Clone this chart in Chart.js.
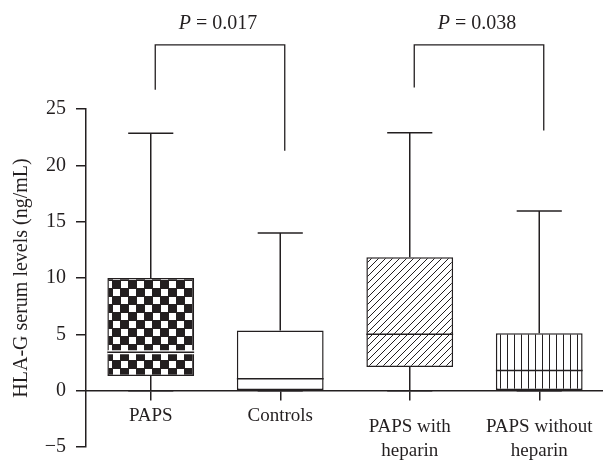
<!DOCTYPE html>
<html>
<head>
<meta charset="utf-8">
<script src="https://cdn.jsdelivr.net/npm/chart.js@4.4.1/dist/chart.umd.min.js"></script>
<style>
  html, body { margin: 0; padding: 0; background: #fff; overflow: hidden; }
  canvas { display: block; }
</style>
</head>
<body>
<canvas id="myChart" width="604" height="467"></canvas>
<script>
// values (ng/mL)
const groups = [['PAPS'], ['Controls'], ['PAPS with', 'heparin'], ['PAPS without', 'heparin']];
const whiskerLow = [0, 0, 0, 0];
const boxLow = [1.3, 0, 2.1, 0];
const medians = [3.4, 1.05, 5.0, 1.8];
const boxHigh = [10.0, 5.35, 11.85, 5.1];
const whiskerHigh = [22.85, 14.0, 22.9, 15.95];
const yMin = -5, yMax = 25, yStep = 5;

// significance brackets
const pairs = [[0, 1], [2, 3]];
const pValues = ['0.017', '0.038'];
const bracketTop = [30.7, 30.7];
const legEnds = [[26.7, 21.3], [26.9, 23.1]];

const ink = '#231f20';
const serif = "'Liberation Serif', 'Times New Roman', serif";

function checker() {
  const c = document.createElement('canvas');
  c.width = 16; c.height = 16;
  const g = c.getContext('2d');
  g.fillStyle = ink;
  g.fillRect(0, 0, 16, 16);
  g.fillStyle = '#fff';
  g.fillRect(1, 1, 7, 7);
  g.fillRect(9, 9, 7, 7);
  return g.createPattern(c, 'repeat');
}

function hatch() {
  const s = 7;
  const c = document.createElement('canvas');
  c.width = s; c.height = s;
  const g = c.getContext('2d');
  g.fillStyle = '#fff';
  g.fillRect(0, 0, s, s);
  g.strokeStyle = ink;
  g.lineWidth = 1;
  g.beginPath();
  g.moveTo(0, s); g.lineTo(s, 0);
  g.moveTo(-1, 1); g.lineTo(1, -1);
  g.moveTo(s - 1, s + 1); g.lineTo(s + 1, s - 1);
  g.stroke();
  return g.createPattern(c, 'repeat');
}

function vlines() {
  const c = document.createElement('canvas');
  c.width = 7; c.height = 7;
  const g = c.getContext('2d');
  g.fillStyle = '#fff';
  g.fillRect(0, 0, 7, 7);
  g.fillStyle = ink;
  g.fillRect(3, 0, 1, 7);
  return g.createPattern(c, 'repeat');
}

const fills = [checker(), '#fff', hatch(), vlines()];
const medianHalo = [true, false, false, false];

function seg(ctx, x1, y1, x2, y2) {
  ctx.beginPath();
  ctx.moveTo(x1, y1);
  ctx.lineTo(x2, y2);
  ctx.stroke();
}

// whiskers + medians on top of the floating bars
const boxParts = {
  id: 'boxParts',
  afterDatasetsDraw(chart) {
    const ctx = chart.ctx;
    const ys = chart.scales.y;
    const y = v => ys.getPixelForValue(v);
    ctx.save();
    chart.getDatasetMeta(0).data.forEach((bar, i) => {
      const x = bar.x;
      const half = bar.width / 2;
      const cap = half * 0.52;
      ctx.strokeStyle = ink;
      ctx.lineWidth = 1.5;
      seg(ctx, x, y(boxHigh[i]), x, y(whiskerHigh[i]));
      seg(ctx, x - cap, y(whiskerHigh[i]), x + cap, y(whiskerHigh[i]));
      if (boxLow[i] > whiskerLow[i]) seg(ctx, x, y(boxLow[i]), x, y(whiskerLow[i]));
      seg(ctx, x - cap, y(whiskerLow[i]), x + cap, y(whiskerLow[i]));
      if (medianHalo[i]) {
        ctx.strokeStyle = '#fff';
        ctx.lineWidth = 4;
        seg(ctx, x - half, y(medians[i]), x + half, y(medians[i]));
      }
      ctx.strokeStyle = ink;
      ctx.lineWidth = 1.5;
      seg(ctx, x - half, y(medians[i]), x + half, y(medians[i]));
    });
    ctx.restore();
  }
};

// category names under the zero line, and the P value brackets
const annotations = {
  id: 'annotations',
  afterDraw(chart) {
    const ctx = chart.ctx;
    const xs = chart.scales.x, ys = chart.scales.y;
    const zero = ys.getPixelForValue(0);
    ctx.save();
    ctx.fillStyle = ink;
    ctx.textAlign = 'center';
    ctx.textBaseline = 'alphabetic';
    ctx.font = '19px ' + serif;
    groups.forEach((lines, i) => {
      const x = xs.getPixelForValue(i);
      if (lines.length === 1) {
        ctx.fillText(lines[0], x, zero + 30.5);
      } else {
        lines.forEach((t, k) => ctx.fillText(t, x, zero + 41 + k * 24));
      }
    });

    ctx.strokeStyle = ink;
    ctx.lineWidth = 1.3;
    pairs.forEach(([a, b], k) => {
      const xa = xs.getPixelForValue(a) + 4.5;
      const xb = xs.getPixelForValue(b) + 4.5;
      const yt = ys.getPixelForValue(bracketTop[k]);
      ctx.beginPath();
      ctx.moveTo(xa, ys.getPixelForValue(legEnds[k][0]));
      ctx.lineTo(xa, yt);
      ctx.lineTo(xb, yt);
      ctx.lineTo(xb, ys.getPixelForValue(legEnds[k][1]));
      ctx.stroke();

      const italic = 'italic 20px ' + serif;
      const plain = '20px ' + serif;
      const rest = ' = ' + pValues[k];
      ctx.font = italic;
      const w1 = ctx.measureText('P').width;
      ctx.font = plain;
      const w2 = ctx.measureText(rest).width;
      let sx = (xa + xb) / 2 - (w1 + w2) / 2 - 2;
      ctx.textAlign = 'left';
      ctx.font = italic;
      ctx.fillText('P', sx, yt - 16);
      ctx.font = plain;
      ctx.fillText(rest, sx + w1, yt - 16);
    });
    ctx.restore();
  }
};

const ctx = document.getElementById('myChart').getContext('2d');
const myChart = new Chart(ctx, {
  type: 'bar',
  data: {
    labels: groups.map(g => g.join(' ')),
    datasets: [{
      data: boxLow.map((lo, i) => [lo, boxHigh[i]]),
      backgroundColor: fills,
      borderColor: ink,
      borderWidth: 1.5,
      borderSkipped: false,
      barPercentage: 0.67,
      categoryPercentage: 1
    }]
  },
  options: {
    responsive: false,
    animation: false,
    devicePixelRatio: 1,
    layout: { padding: { top: 109, bottom: 11, left: 0, right: 0 } },
    plugins: {
      legend: { display: false },
      tooltip: { enabled: false }
    },
    scales: {
      x: {
        type: 'category',
        position: { y: 0 },
        offset: true,
        afterFit: s => { s.height = 0; },
        grid: { display: true, drawOnChartArea: false, offset: false, tickLength: 9, color: ink, lineWidth: 1.5 },
        border: { display: true, color: ink, width: 1.5 },
        ticks: { display: false }
      },
      y: {
        min: yMin,
        max: yMax,
        afterFit: s => { s.width = 86; },
        grid: { display: true, drawOnChartArea: false, tickLength: 10, color: ink, lineWidth: 1.5 },
        border: { display: true, color: ink, width: 1.5 },
        ticks: {
          stepSize: yStep,
          padding: 10,
          color: ink,
          font: { family: serif, size: 20, lineHeight: 1 },
          callback: v => v < 0 ? '\u2212' + Math.abs(v) : v
        },
        title: {
          display: true,
          text: 'HLA-G serum levels (ng/mL)',
          color: ink,
          font: { family: serif, size: 20 },
          padding: { top: 10, bottom: 0 }
        }
      }
    }
  },
  plugins: [boxParts, annotations]
});
</script>
</body>
</html>
